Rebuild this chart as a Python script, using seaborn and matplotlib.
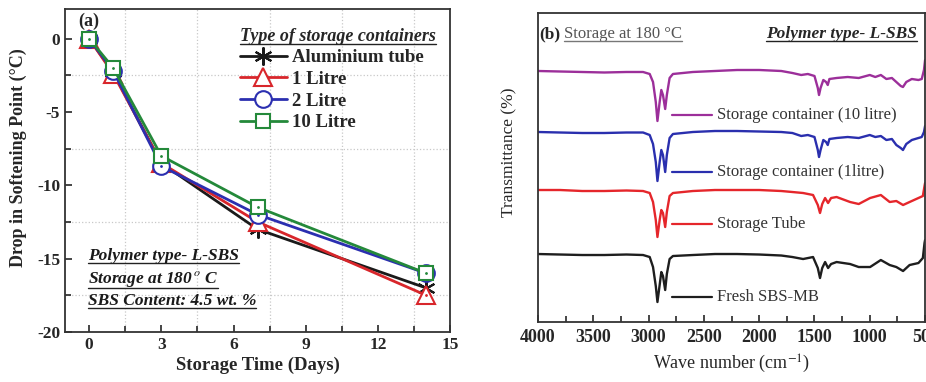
import numpy as np
import pandas as pd
import matplotlib
matplotlib.use('Agg')
import matplotlib.pyplot as plt
import seaborn as sns
from matplotlib.lines import Line2D
from matplotlib.ticker import MultipleLocator, NullLocator

sns.set_style('ticks')
plt.rcParams['font.family'] = ['Liberation Serif', 'DejaVu Serif']
plt.rcParams['mathtext.fontset'] = 'stix'
plt.rcParams['axes.unicode_minus'] = False

# ---- panel (a): drop in softening point vs storage time
days = [0, 1, 3, 7, 14]
containers = ['Aluminium tube', '1 Litre', '2 Litre', '10 Litre']
alu_tube = [0, -2.3, -8.5, -13.0, -17.0]
litre_1 = [0, -2.4, -8.5, -12.5, -17.5]
litre_2 = [0, -2.2, -8.7, -12.0, -16.0]
litre_10 = [0, -2.0, -8.0, -11.5, -16.0]

# ---- panel (b): FTIR spectra (wave number, transmittance in arbitrary offset units)
wn_top = [4000, 3800, 3600, 3400, 3200, 3050, 2990, 2960, 2935, 2920, 2900, 2885,
          2870, 2850, 2835, 2810, 2780, 2600, 2400, 2200, 2000, 1800, 1700, 1620,
          1560, 1500, 1470, 1459, 1445, 1420, 1395, 1380, 1365, 1300, 1200, 1100,
          1000, 950, 900, 850, 800, 760, 720, 700, 670, 620, 560, 530, 510, 500]
t_10litre = [259, 258.5, 258, 257.5, 258, 258, 256, 248, 228, 209, 228, 240,
             235, 221, 235, 252, 256, 258, 259, 260, 260, 259, 257, 255,
             256, 254, 242, 235, 242, 250, 248, 245, 251, 252, 253, 252,
             255, 253, 255, 251, 252, 248, 244, 243, 248, 251, 250, 251, 260, 270]
t_1litre = [198, 197.5, 197, 197, 197.5, 197.5, 195, 186, 168, 149, 168, 180,
            175, 158, 175, 192, 196, 198, 199, 199, 198.5, 198, 197, 194,
            195, 193, 180, 173, 180, 190, 188, 185, 191, 192, 193, 192,
            195, 193, 194, 190, 191, 185, 182, 180, 186, 190, 192, 193, 198, 204]

wn_low = [4000, 3800, 3600, 3400, 3200, 3050, 2990, 2960, 2935, 2920, 2900, 2885,
          2870, 2850, 2835, 2810, 2780, 2600, 2400, 2200, 2000, 1800, 1700, 1603,
          1513, 1470, 1450, 1430, 1404, 1377, 1350, 1300, 1178, 1100, 997, 900,
          820, 760, 699, 640, 560, 520, 505, 500]
t_tube = [140, 140, 139, 139, 139.5, 139, 137, 128, 110, 93, 110, 120,
          117, 103, 118, 134, 137, 139, 140, 140, 140, 139, 138, 137,
          135, 125, 117, 126, 132, 127, 132, 133, 128, 126, 132, 135,
          128, 129, 125, 128, 132, 134, 144, 147]
t_fresh = [76, 75.5, 75, 75, 75.5, 75, 73, 63, 44, 28, 45, 58,
           54, 40, 56, 71, 74, 75, 76, 76, 75.5, 74.5, 73, 71,
           73, 62, 52, 62, 68, 62, 66, 68, 66, 63, 63, 70,
           65, 63, 59, 65, 67, 72, 87, 90]

spectra = ['Storage container (10 litre)', 'Storage container (1litre)',
           'Storage Tube', 'Fresh SBS-MB']

fig = plt.figure(figsize=(9.26, 3.82), dpi=100)
ax1 = fig.add_axes([0.0702, 0.131, 0.416, 0.845])
ax2 = fig.add_axes([0.581, 0.157, 0.418, 0.809])

# panel (a)
df_a = pd.DataFrame({
    'days': days * 4,
    'drop': alu_tube + litre_1 + litre_2 + litre_10,
    'container': sum([[c] * len(days) for c in containers], []),
})
colors_a = ['#1a1a1a', '#d8262b', '#2b2fb0', '#24893a']
markers_a = [(6, 2, 0), '^', 'o', 's']
sizes_a = [13, 13, 12, 10]
handles = []
for c, col, mk, ms in zip(containers, colors_a, markers_a, sizes_a):
    sub = df_a[df_a.container == c]
    sns.lineplot(data=sub, x='days', y='drop', ax=ax1, color=col, lw=2,
                 marker=mk, markersize=ms, markerfacecolor='white',
                 markeredgecolor=col, markeredgewidth=1.5, legend=False)
    ax1.plot(sub.days, sub['drop'], ls='none', marker='.', ms=2, color=col)
    handles.append(Line2D([], [], color=col, lw=2, marker=mk, markersize=ms,
                          markerfacecolor='white', markeredgecolor=col,
                          markeredgewidth=1.5))

ax1.set_xlim(-1, 15)
ax1.set_ylim(-20, 2)
ax1.xaxis.set_major_locator(MultipleLocator(3))
ax1.xaxis.set_minor_locator(MultipleLocator(1.5))
ax1.yaxis.set_major_locator(MultipleLocator(5))
ax1.yaxis.set_minor_locator(MultipleLocator(2.5))
ax1.grid(which='minor', ls=':', color='#c8c8c8', lw=0.9)
ax1.tick_params(which='both', direction='in', width=1.2, labelsize=12.5)
ax1.tick_params(which='major', length=5)
ax1.tick_params(which='minor', length=4)
for lab in ax1.get_xticklabels() + ax1.get_yticklabels():
    lab.set_fontweight('bold')
for sp in ax1.spines.values():
    sp.set_linewidth(1.3)
    sp.set_color('#333333')
ax1.set_xlabel('Storage Time (Days)', fontsize=13.5, fontweight='bold', labelpad=3)
ax1.set_ylabel('Drop in Softening Point (°C)', fontsize=13, fontweight='bold')
ax1.yaxis.set_label_coords(-0.098, 0.54)
ax1.text(-0.45, 1.15, '(a)', fontsize=13, fontweight='bold', va='center')

leg = ax1.legend(handles, containers, title='Type of storage containers',
                 loc='upper left', bbox_to_anchor=(0.41, 0.995), frameon=False,
                 handlelength=2.5, handletextpad=0.3, labelspacing=0.24,
                 alignment='left',
                 prop={'weight': 'bold', 'size': 13.5},
                 title_fontproperties={'weight': 'bold', 'style': 'italic', 'size': 13})

notes = ['Polymer type- L-SBS', 'Storage at 180$^{\\,o}$ C', 'SBS Content: 4.5 wt. %']
note_y = [-14.8, -16.4, -17.9]
note_txt = []
for s, y in zip(notes, note_y):
    note_txt.append(ax1.text(-0.05, y, s, fontsize=12.5, fontweight='bold',
                             style='italic', va='center', color='#1a1a1a'))

# panel (b)
df_b = pd.concat([
    pd.DataFrame({'wn': wn_top, 't': t_10litre, 's': spectra[0]}),
    pd.DataFrame({'wn': wn_top, 't': t_1litre, 's': spectra[1]}),
    pd.DataFrame({'wn': wn_low, 't': t_tube, 's': spectra[2]}),
    pd.DataFrame({'wn': wn_low, 't': t_fresh, 's': spectra[3]}),
])
colors_b = ['#9c2f9a', '#2a2fae', '#e5262b', '#1e1e1e']
sns.lineplot(data=df_b, x='wn', y='t', hue='s', palette=colors_b, estimator=None,
             sort=False, lw=1.7, ax=ax2, legend=False)
ax2.set_xlim(4000, 500)
ax2.set_ylim(8, 317)
ax2.xaxis.set_major_locator(MultipleLocator(500))
ax2.xaxis.set_minor_locator(MultipleLocator(250))
ax2.yaxis.set_major_locator(NullLocator())
ax2.tick_params(axis='x', which='both', direction='in', width=1.2, labelsize=13, pad=5)
ax2.tick_params(axis='x', which='major', length=5)
ax2.tick_params(axis='x', which='minor', length=4)
for lab in ax2.get_xticklabels():
    lab.set_fontweight('semibold')
for sp in ax2.spines.values():
    sp.set_linewidth(1.3)
    sp.set_color('#333333')
ax2.set_xlabel('Wave number (cm$^{-1}$)', fontsize=13, labelpad=5)
ax2.set_ylabel('Transmittance (%)', fontsize=12.5)
ax2.yaxis.set_label_coords(-0.052, 0.55)

label_y = [215, 158, 106, 33]
for s, y, col in zip(spectra, label_y, colors_b):
    ax2.plot([2790, 2430], [y, y], color=col, lw=1.6)
    ax2.text(2385, y, s, fontsize=12, va='center', color='#333333')

ax2.text(3990, 296, '(b)', fontsize=12.5, fontweight='bold', va='center')
t_store = ax2.text(3765, 296, 'Storage at 180 °C', fontsize=12, va='center', color='#555555')
t_poly = ax2.text(570, 296, 'Polymer type- L-SBS', fontsize=12.5, fontweight='bold',
                  style='italic', va='center', ha='right')

# underline some texts
fig.canvas.draw()
renderer = fig.canvas.get_renderer()
inv = fig.transFigure.inverted()


def underline(txt, color='#222222', lw=1.0):
    bb = txt.get_window_extent(renderer)
    (x0, y0), (x1, _) = inv.transform([[bb.x0, bb.y0], [bb.x1, bb.y1]])
    fig.add_artist(Line2D([x0, x1], [y0 + 0.002, y0 + 0.002], color=color, lw=lw,
                          transform=fig.transFigure))


underline(leg.get_title())
for t in note_txt:
    underline(t)
underline(t_store, color='#777777')
underline(t_poly)

fig.savefig('out.png', dpi=100)
